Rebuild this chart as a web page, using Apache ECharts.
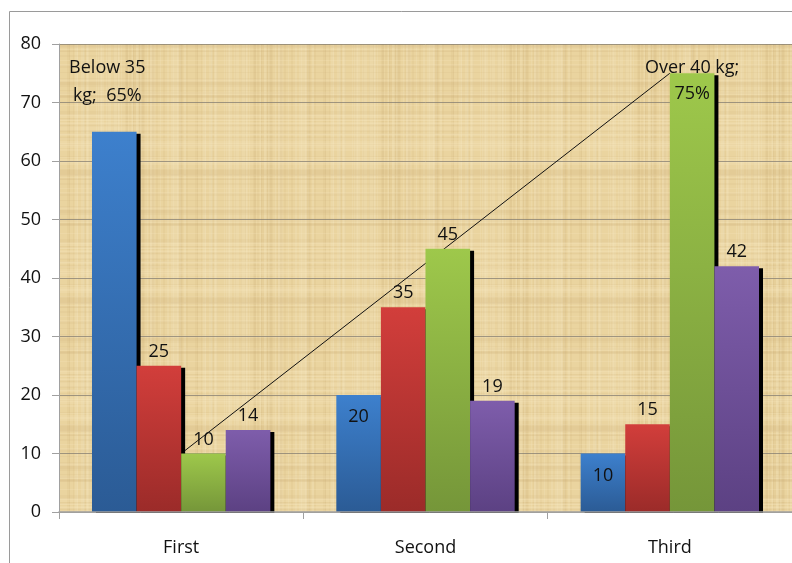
<!DOCTYPE html>
<html>
<head>
<meta charset="utf-8">
<script src="https://cdn.jsdelivr.net/npm/echarts@6/dist/echarts.min.js"></script>
<style>
  html, body { margin: 0; padding: 0; background: #ffffff; }
  #chart { width: 792px; height: 563px; }
</style>
</head>
<body>
<div id="chart"></div>
<script>
// Categories and the four weight-group series
const categories = ['First', 'Second', 'Third'];
const seriesNames = ['Below 35 kg', '35-38 kg', 'Over 40 kg', '38-40 kg'];
const belowValues = [65, 20, 10];
const midLowValues = [25, 35, 15];
const overValues = [10, 45, 75];
const midHighValues = [14, 19, 42];
const yTicks = [0, 10, 20, 30, 40, 50, 60, 70, 80];

// Bar fills: lighter at the top, darker at the base
const fills = [
  ['#3d80cd', '#2b5b95'],
  ['#d23e3b', '#9b2b29'],
  ['#9ec84b', '#759639'],
  ['#7e5dab', '#5c4183']
];

// Papyrus-like texture painted on a small tile
function papyrusTile() {
  const c = document.createElement('canvas');
  c.width = 128; c.height = 128;
  const g = c.getContext('2d');
  g.fillStyle = '#ead49f';
  g.fillRect(0, 0, 128, 128);
  let s = 11;
  const h = () => { s = (s * 9301 + 49297) % 233280; return s / 233280; };
  for (let i = 0; i < 60; i++) {
    const x = Math.floor(h() * 128);
    const light = h() > 0.45;
    g.fillStyle = light ? 'rgba(248,234,196,0.22)' : 'rgba(200,170,110,0.10)';
    g.fillRect(x, 0, 1 + Math.floor(h() * 3), 128);
  }
  for (let i = 0; i < 60; i++) {
    const y = Math.floor(h() * 128);
    const light = h() > 0.45;
    g.fillStyle = light ? 'rgba(248,234,196,0.2)' : 'rgba(200,170,110,0.09)';
    g.fillRect(0, y, 128, 1 + Math.floor(h() * 3));
  }
  return c;
}

const chart = echarts.init(document.getElementById('chart'), null, { renderer: 'canvas' });
const font = "'Open Sans', 'Liberation Sans', sans-serif";

function grad(pair) {
  return new echarts.graphic.LinearGradient(0, 0, 0, 1, [
    { offset: 0, color: pair[0] },
    { offset: 1, color: pair[1] }
  ]);
}

const baseLabel = {
  show: true, position: 'top', distance: 5,
  color: '#111', fontSize: 18, fontFamily: font
};

function barSeries(idx, values, labelFor) {
  return {
    name: seriesNames[idx],
    type: 'bar',
    z: 3,
    barGap: 0,
    barCategoryGap: '27%',
    itemStyle: {
      color: grad(fills[idx]),
      shadowColor: '#000',
      shadowBlur: 0,
      shadowOffsetX: 4,
      shadowOffsetY: 2
    },
    label: baseLabel,
    data: values.map((v, i) => {
      const item = { value: v };
      const lab = labelFor ? labelFor(i, v) : null;
      if (lab) item.label = lab;
      return item;
    })
  };
}

const option = {
  animation: false,
  backgroundColor: '#ffffff',
  graphic: [
    {
      type: 'rect', left: 7, top: 9, z: -10,
      shape: { width: 820, height: 600 },
      style: { fill: 'none', stroke: '#9a9a9a', lineWidth: 1 }
    },
    // keeps the bar shadows from spilling under the baseline
    {
      type: 'rect', left: 60, top: 513, z: 50,
      shape: { width: 760, height: 4 },
      style: { fill: '#ffffff' }
    }
  ],
  grid: {
    left: 59, top: 44, right: -2, bottom: 51,
    show: true, borderWidth: 0,
    backgroundColor: { image: papyrusTile(), repeat: 'repeat' }
  },
  xAxis: {
    type: 'category',
    data: categories,
    z: 60,
    axisLine: { lineStyle: { color: '#a0a0a0', width: 1.5 } },
    axisTick: { show: true, length: 7, lineStyle: { color: '#a0a0a0' } },
    axisLabel: { color: '#111', fontSize: 18, fontFamily: font, margin: 27 }
  },
  yAxis: {
    type: 'value',
    min: yTicks[0], max: yTicks[yTicks.length - 1], interval: 10,
    axisLine: { show: true, lineStyle: { color: '#a0a0a0' } },
    axisTick: { show: true, length: 7, lineStyle: { color: '#a0a0a0' } },
    axisLabel: { color: '#111', fontSize: 18, fontFamily: font, margin: 18 },
    splitLine: { lineStyle: { color: 'rgba(125,120,110,0.7)', width: 1 } }
  },
  series: [
    // Connector between the green bars of the first and third groups
    {
      type: 'line', z: 1, silent: true,
      symbol: 'none',
      lineStyle: { color: '#111', width: 1 },
      data: [[categories[0], overValues[0]], [categories[2], overValues[2]]]
    },
    barSeries(0, belowValues, (i, v) => {
      if (i === 0) return {
        formatter: 'Below 35\nkg;  {c}%', lineHeight: 28,
        offset: [-7, -17]
      };
      return { position: 'insideTop', distance: 13 };
    }),
    barSeries(1, midLowValues),
    barSeries(2, overValues, (i, v) => {
      if (i === 2) return {
        formatter: 'Over 40 kg;\n{c}%', lineHeight: 26,
        offset: [0, 39]
      };
      return null;
    }),
    barSeries(3, midHighValues)
  ]
};

chart.setOption(option);
</script>
</body>
</html>
